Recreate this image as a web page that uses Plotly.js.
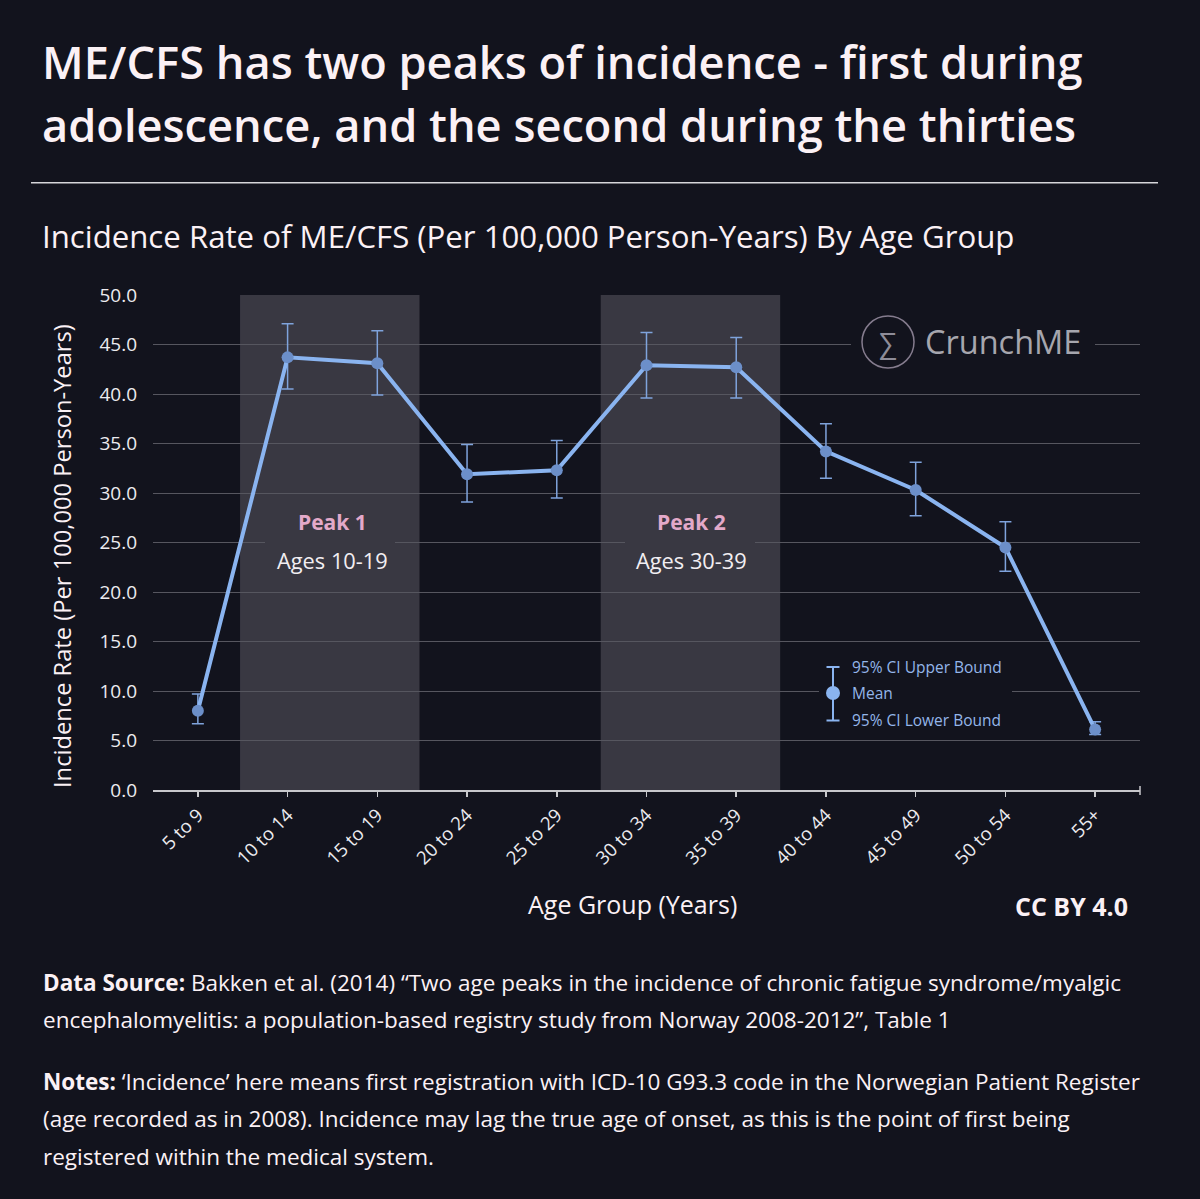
<!DOCTYPE html>
<html><head><meta charset="utf-8">
<script src="https://cdn.plot.ly/plotly-3.0.1.min.js"></script>
<style>html,body{margin:0;padding:0;background:#12131d;}#chart{width:1200px;height:1199px;}</style>
</head><body><div id="chart"></div>
<script>
// ---- Data ----
const ageGroups = ["5 to 9","10 to 14","15 to 19","20 to 24","25 to 29","30 to 34","35 to 39","40 to 44","45 to 49","50 to 54","55+"];
const meanRate  = [8.0, 43.7, 43.1, 31.9, 32.3, 42.9, 42.7, 34.2, 30.3, 24.5, 6.1];
const ciUpper   = [9.7, 47.1, 46.4, 34.9, 35.3, 46.2, 45.7, 37.0, 33.1, 27.1, 6.9];
const ciLower   = [6.7, 40.5, 39.9, 29.1, 29.5, 39.6, 39.6, 31.5, 27.7, 22.1, 5.6];
const peakLabels = ["Peak 1", "Peak 2"];
const peakAges   = ["Ages 10-19", "Ages 30-39"];
const peakCenters = [1.5, 5.5];
const peakBands  = [[0.47, 2.47], [4.49, 6.49]];
const legendLabels = ["95% CI Upper Bound", "Mean", "95% CI Lower Bound"];

// ---- Layout helpers ----
const W = 1200, H = 1199;
const M = {l: 153, r: 60, t: 295, b: 409};
const PW = W - M.l - M.r, PH = H - M.t - M.b;
const px = x => (x - M.l) / PW;
const py = y => (H - M.b - y) / PH;

const BG = "#12131d";
const BAND = "#393842";
const FONT = '"Open Sans", Lato, sans-serif';
const WHITE = "#fbf1f5";

const errUp = ciUpper.map((u, i) => +(u - meanRate[i]).toFixed(3));
const errDn = meanRate.map((m, i) => +(m - ciLower[i]).toFixed(3));

const trace = {
  type: "scatter", mode: "lines+markers",
  x: ageGroups, y: meanRate,
  line: {color: "#8ab4f0", width: 4},
  marker: {color: "#6c8fc9", size: 12},
  error_y: {type: "data", symmetric: false, array: errUp, arrayminus: errDn,
            color: "#7fa3dc", thickness: 1.5, width: 6},
  hoverinfo: "skip", showlegend: false, cliponaxis: false
};

const shapes = [];
peakBands.forEach(b => shapes.push({type: "rect", xref: "x", yref: "y", x0: b[0], x1: b[1], y0: 0, y1: 50,
  fillcolor: BAND, line: {width: 0}, layer: "below"}));
// title rule
shapes.push({type: "line", xref: "paper", yref: "paper", x0: px(31), x1: px(1158), y0: py(182.7), y1: py(182.7),
  line: {color: "#d6d6da", width: 1.5}});
// end tick on the x axis
shapes.push({type: "line", xref: "paper", yref: "paper", x0: 1, x1: 1, y0: py(786), y1: py(795),
  line: {color: "#c8c8cc", width: 1.5}});
// gaps in gridlines behind annotations
shapes.push({type: "rect", xref: "paper", yref: "paper", x0: px(265), x1: px(395), y0: py(536), y1: py(550), fillcolor: BAND, line: {width: 0}, layer: "above"});
shapes.push({type: "rect", xref: "paper", yref: "paper", x0: px(625), x1: px(755), y0: py(536), y1: py(550), fillcolor: BAND, line: {width: 0}, layer: "above"});
shapes.push({type: "rect", xref: "paper", yref: "paper", x0: px(851), x1: px(1095), y0: py(330), y1: py(358), fillcolor: BG, line: {width: 0}, layer: "above"});
shapes.push({type: "rect", xref: "paper", yref: "paper", x0: px(819), x1: px(1012), y0: py(655), y1: py(732), fillcolor: BG, line: {width: 0}, layer: "above"});
// logo circle
shapes.push({type: "circle", xref: "paper", yref: "paper", x0: px(862), x1: px(914), y0: py(316), y1: py(368),
  line: {color: "#857c8e", width: 1.5}, layer: "above"});
// legend icon
const LC = "#8ab4f0";
shapes.push({type: "line", xref: "paper", yref: "paper", x0: px(833), x1: px(833), y0: py(667), y1: py(720.5), line: {color: LC, width: 2}, layer: "above"});
shapes.push({type: "line", xref: "paper", yref: "paper", x0: px(826.5), x1: px(839.5), y0: py(667), y1: py(667), line: {color: LC, width: 2}, layer: "above"});
shapes.push({type: "line", xref: "paper", yref: "paper", x0: px(826.5), x1: px(839.5), y0: py(720.5), y1: py(720.5), line: {color: LC, width: 2}, layer: "above"});
shapes.push({type: "circle", xref: "paper", yref: "paper", x0: px(826), x1: px(840), y0: py(686), y1: py(700), fillcolor: LC, line: {color: LC, width: 0}, layer: "above"});

const ann = [];
const A = (text, x, y, size, opts = {}) => ann.push(Object.assign({
  text, xref: "paper", yref: "paper", x: px(x), y: py(y), showarrow: false,
  xanchor: "left", yanchor: "middle", font: {family: FONT, size, color: WHITE}
}, opts));

A("ME/CFS has two peaks of incidence - first during", 40, 61, 45.2, {font: {family: FONT, size: 45.2, color: WHITE, weight: 600}});
A("adolescence, and the second during the thirties", 40, 124, 45.2, {font: {family: FONT, size: 45.2, color: WHITE, weight: 600}});
A("Incidence Rate of ME/CFS (Per 100,000 Person-Years) By Age Group", 40, 236, 31.2, {font: {family: FONT, size: 31.2, color: WHITE, weight: 500}});
A("Incidence Rate (Per 100,000 Person-Years)", 62, 556, 23.7, {xanchor: "center", textangle: -90});
A("Age Group (Years)", 632, 904, 25, {xanchor: "center"});
A("<b>CC BY 4.0</b>", 1130, 906, 25, {xanchor: "right"});
A("<b>Data Source:</b> Bakken et al. (2014) “Two age peaks in the incidence of chronic fatigue syndrome/myalgic", 41, 982, 22.5);
A("encephalomyelitis: a population-based registry study from Norway 2008-2012”, Table 1", 41, 1020, 22.5);
A("<b>Notes:</b> ‘Incidence’ here means first registration with ICD-10 G93.3 code in the Norwegian Patient Register", 41, 1081, 22.5);
A("(age recorded as in 2008). Incidence may lag the true age of onset, as this is the point of first being", 41, 1118, 22.5);
A("registered within the medical system.", 41, 1156, 22.5);
// logo
A("∑", 888, 342, 26, {xanchor: "center", font: {family: FONT, size: 28, color: "#8e8c98"}});
A("CrunchME", 923, 341, 32.5, {font: {family: FONT, size: 32.5, color: "#a6a6ae", weight: 500}});
// legend text
legendLabels.forEach((t, i) => A(t, 850, [667, 693, 720][i], 15.5, {font: {family: FONT, size: 15.5, color: "#94b6ea"}}));
// peak labels
peakLabels.forEach((t, i) => ann.push({text: "<b>" + t + "</b>", xref: "x", yref: "paper", x: peakCenters[i], y: py(522),
  showarrow: false, xanchor: "center", yanchor: "middle", font: {family: FONT, size: 21, color: "#e3a9c9"}}));
peakAges.forEach((t, i) => ann.push({text: t, xref: "x", yref: "paper", x: peakCenters[i], y: py(560),
  showarrow: false, xanchor: "center", yanchor: "middle", font: {family: FONT, size: 21.8, color: "#f2eef2"}}));

const layout = {
  width: W, height: H, margin: M,
  paper_bgcolor: BG, plot_bgcolor: BG,
  font: {family: FONT, color: WHITE},
  showlegend: false,
  xaxis: {type: "category", range: [-0.5, 10.5], showgrid: false, zeroline: false,
    showline: true, linecolor: "#c8c8cc", linewidth: 2,
    ticks: "outside", ticklen: 5, tickcolor: "#c8c8cc", tickwidth: 1.5,
    tickangle: -45, tickfont: {family: FONT, size: 18.5, color: "#ecebef"}, fixedrange: true},
  yaxis: {range: [0, 50], dtick: 5, tick0: 0, tickformat: ".1f", showgrid: true,
    gridcolor: "#56565f", gridwidth: 1, zeroline: false, showline: false, ticks: "",
    ticklabelstandoff: 15, tickfont: {family: FONT, size: 19, color: "#ecebef"}, fixedrange: true},
  shapes, annotations: ann
};

Plotly.newPlot("chart", [trace], layout, {displayModeBar: false, staticPlot: true});
</script>
</body></html>
